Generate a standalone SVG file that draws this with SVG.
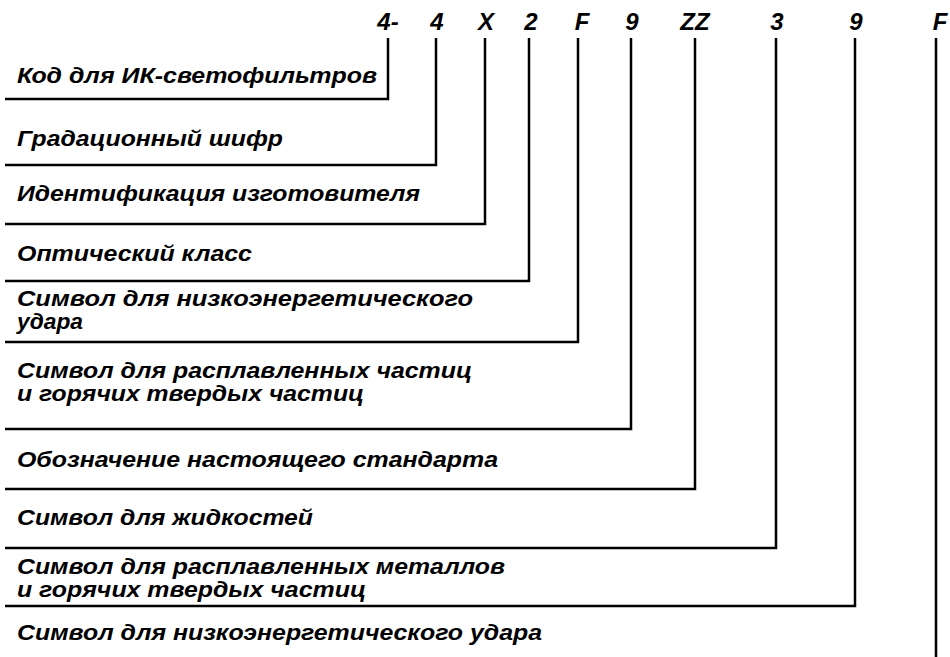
<svg xmlns="http://www.w3.org/2000/svg" width="950" height="657" viewBox="0 0 950 657">
<style>
.t{font-family:"Liberation Sans",Arial,sans-serif;font-weight:bold;font-style:italic;font-size:22px;fill:#000}
.c{font-family:"Liberation Sans",Arial,sans-serif;font-weight:bold;font-style:italic;font-size:24px;fill:#000;text-anchor:middle}
.ln{fill:none;stroke:#000;stroke-width:2.5}
</style>
<rect width="950" height="657" fill="#fff"/>
<g id="codes">
<g id="c1"><text class="c" x="388" y="30">4-</text></g>
<g id="c2"><text class="c" x="437" y="30">4</text></g>
<g id="c3"><text class="c" x="486" y="30">X</text></g>
<g id="c4"><text class="c" x="531" y="30">2</text></g>
<g id="c5"><text class="c" x="582" y="30">F</text></g>
<g id="c6"><text class="c" x="632" y="30">9</text></g>
<g id="c7"><text class="c" x="695" y="30">ZZ</text></g>
<g id="c8"><text class="c" x="777" y="30">3</text></g>
<g id="c9"><text class="c" x="856" y="30">9</text></g>
<g id="c10"><text class="c" x="940" y="30">F</text></g>
</g>
<g id="connectors">
<path class="ln" d="M5,99H388V38"/>
<path class="ln" d="M5,165H436V38"/>
<path class="ln" d="M5,224H485V38"/>
<path class="ln" d="M5,281H529V38"/>
<path class="ln" d="M5,342H578V38"/>
<path class="ln" d="M5,429H631V38"/>
<path class="ln" d="M5,489H695V38"/>
<path class="ln" d="M5,548H776V38"/>
<path class="ln" d="M5,606H855V38"/>
<path class="ln" d="M936,38V657"/>
</g>
<g id="n1"><text class="t" x="17" y="83" textLength="360" lengthAdjust="spacingAndGlyphs">Код для ИК-светофильтров</text></g>
<g id="n2"><text class="t" x="17" y="146" textLength="266" lengthAdjust="spacingAndGlyphs">Градационный шифр</text></g>
<g id="n3"><text class="t" x="17" y="201" textLength="403" lengthAdjust="spacingAndGlyphs">Идентификация изготовителя</text></g>
<g id="n4"><text class="t" x="17" y="261" textLength="235" lengthAdjust="spacingAndGlyphs">Оптический класс</text></g>
<g id="n5"><text class="t" x="17" y="306" textLength="456" lengthAdjust="spacingAndGlyphs">Символ для низкоэнергетического</text><text class="t" x="17" y="329" textLength="66" lengthAdjust="spacingAndGlyphs">удара</text></g>
<g id="n6"><text class="t" x="17" y="378" textLength="455" lengthAdjust="spacingAndGlyphs">Символ для расплавленных частиц</text><text class="t" x="17" y="401" textLength="347" lengthAdjust="spacingAndGlyphs">и горячих твердых частиц</text></g>
<g id="n7"><text class="t" x="17" y="467" textLength="481" lengthAdjust="spacingAndGlyphs">Обозначение настоящего стандарта</text></g>
<g id="n8"><text class="t" x="17" y="525" textLength="296" lengthAdjust="spacingAndGlyphs">Символ для жидкостей</text></g>
<g id="n9"><text class="t" x="17" y="574" textLength="488" lengthAdjust="spacingAndGlyphs">Символ для расплавленных металлов</text><text class="t" x="17" y="597" textLength="349" lengthAdjust="spacingAndGlyphs">и горячих твердых частиц</text></g>
<g id="n10"><text class="t" x="17" y="640" textLength="525" lengthAdjust="spacingAndGlyphs">Символ для низкоэнергетического удара</text></g>
</svg>
